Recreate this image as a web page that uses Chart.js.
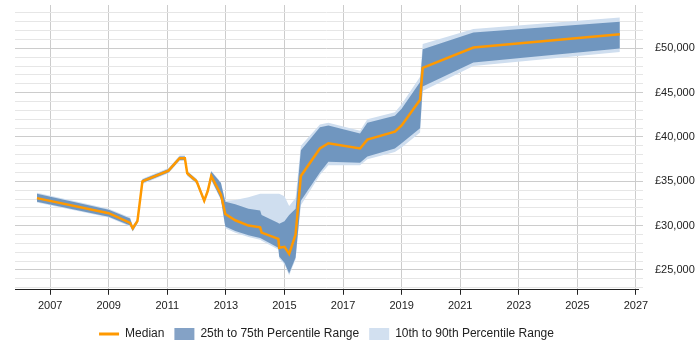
<!DOCTYPE html>
<html>
<head>
<meta charset="utf-8">
<script src="https://cdn.jsdelivr.net/npm/chart.js@4"></script>
<style>
body{margin:0;background:#fff;}
#wrap{width:700px;height:350px;}
</style>
</head>
<body>
<div id="wrap"><canvas id="salaryChart" width="700" height="350"></canvas></div>
<script>

/* decimal years where the samples sit */
const years = [2006.55, 2009.0, 2009.73, 2009.82, 2009.98, 2010.15, 2011.04, 2011.42, 2011.6, 2011.68, 2012.0, 2012.26, 2012.38, 2012.5, 2012.83, 2012.98, 2013.32, 2013.77, 2014.17, 2014.22, 2014.79, 2014.82, 2015.0, 2015.16, 2015.38, 2015.56, 2016.21, 2016.5, 2017.58, 2017.83, 2018.77, 2019.0, 2019.63, 2019.72, 2021.45, 2026.45];

const median = [33100, 31400, 30300, 29700, 30500, 35000, 36200, 37600, 37600, 35900, 35000, 32800, 33900, 35600, 33500, 31300, 30600, 30000, 29800, 29200, 28500, 27500, 27600, 26800, 29000, 35600, 38700, 39300, 38700, 39700, 40600, 41300, 44200, 47800, 50100, 51600];

const p75 = [33600, 31800, 30800, 29900, 30700, 35200, 36400, 37800, 37800, 36100, 35200, 33000, 34100, 36100, 34800, 32700, 32400, 31900, 31700, 31200, 30300, 30200, 30500, 31200, 31900, 38500, 41100, 41300, 40400, 41600, 42400, 43200, 46200, 49900, 51800, 53000];

const p25 = [32700, 31000, 30000, 29400, 30300, 34800, 36000, 37400, 37400, 35700, 34800, 32600, 33700, 35200, 33000, 29900, 29400, 28900, 28600, 28500, 27500, 26500, 25800, 24600, 26400, 32800, 36000, 37200, 37100, 37800, 38700, 39300, 41000, 45700, 48400, 50000];

const p90 = [33700, 31900, 30900, 30000, 30800, 35300, 36500, 37900, 37900, 36200, 35300, 33100, 34200, 36200, 34900, 32800, 32900, 33200, 33600, 33600, 33600, 33600, 33300, 32200, 33100, 39000, 41400, 41600, 40700, 42000, 42800, 43700, 46800, 50500, 52200, 53500];

const p10 = [32600, 30900, 29900, 29300, 30200, 34700, 35900, 37300, 37300, 35600, 34700, 32500, 33600, 35100, 32900, 29700, 29200, 28700, 28400, 28300, 27300, 26300, 25600, 24400, 26200, 32300, 35700, 36800, 36800, 37500, 38300, 38800, 40500, 45200, 48000, 49600];

const yearTicks = [2007, 2009, 2011, 2013, 2015, 2017, 2019, 2021, 2023, 2025, 2027];

const legendNames = ["Median", "25th to 75th Percentile Range", "10th to 90th Percentile Range"];

const orange = "#ff9900";
const darkBand = "#7096bf";
const lightBand = "#cfdeef";
const fontFamily = "Liberation Sans, Arial, sans-serif";

function points(values){
return years.map((y, i) => ({x: y, y: values[i]}));
}

const salaryTicks = [];
for(let v = 23000; v <= 54000; v += 1000){
salaryTicks.push(v);
}

new Chart(
document.getElementById("salaryChart"),
{
type:"line",
data:{
datasets:[
{
label:legendNames[0],
data:points(median),
borderColor:orange,
backgroundColor:orange,
borderWidth:2.5,
pointRadius:0,
fill:false,
order:0
},
{
label:legendNames[1],
data:points(p75),
borderWidth:0,
pointRadius:0,
backgroundColor:darkBand,
fill:"+1",
order:1
},
{
label:"p25",
data:points(p25),
borderWidth:0,
pointRadius:0,
fill:false,
order:1
},
{
label:legendNames[2],
data:points(p90),
borderWidth:0,
pointRadius:0,
backgroundColor:lightBand,
fill:"+1",
order:2
},
{
label:"p10",
data:points(p10),
borderWidth:0,
pointRadius:0,
fill:false,
order:2
}
]
},
options:{
responsive:false,
animation:false,
events:[],
layout:{
padding:{left:15, top:5, right:5, bottom:0}
},
elements:{
line:{tension:0}
},
plugins:{
tooltip:{enabled:false},
legend:{
position:"bottom",
fullSize:false,
labels:{
usePointStyle:true,
pointStyleWidth:20,
boxWidth:20,
boxHeight:12,
padding:10,
color:"#222",
font:{family:fontFamily, size:12},
generateLabels:function(){
return [
{text:legendNames[0], pointStyle:"line", strokeStyle:orange, fillStyle:orange, lineWidth:3, fontColor:"#222"},
{text:legendNames[1], pointStyle:"rect", strokeStyle:"#84a2c6", fillStyle:"#84a2c6", lineWidth:0, fontColor:"#222"},
{text:legendNames[2], pointStyle:"rect", strokeStyle:"#d2e0f0", fillStyle:"#d2e0f0", lineWidth:0, fontColor:"#222"}
];
}
}
}
},
scales:{
x:{
type:"linear",
min:2005.8,
max:2027.07,
afterBuildTicks:function(axis){
axis.ticks = yearTicks.map(v => ({value:v}));
},
afterFit:function(axis){
axis.paddingLeft = 0;
axis.paddingRight = 0;
},
ticks:{
color:"#222",
padding:5,
maxRotation:0,
font:{family:fontFamily, size:11},
callback:function(v){ return String(v); }
},
grid:{
color:"#cccccc",
tickColor:"#222",
tickLength:5
},
border:{
display:true,
color:"#222",
width:1
}
},
y:{
position:"right",
min:22750,
max:54900,
afterBuildTicks:function(axis){
axis.ticks = salaryTicks.map(v => ({value:v}));
},
afterFit:function(axis){
axis.width = 57;
axis.paddingTop = 0;
axis.paddingBottom = 0;
},
ticks:{
color:"#222",
padding:12,
autoSkip:false,
font:{family:fontFamily, size:11},
callback:function(v){
if(v % 5000 !== 0) return "";
return "£" + v.toLocaleString("en-GB");
}
},
grid:{
tickLength:5,
color:function(ctx){
return ctx.tick && ctx.tick.value % 5000 === 0 ? "#cccccc" : "#e6e6e6";
}
},
border:{display:false}
}
}
}
}
);

</script>
</body>
</html>
